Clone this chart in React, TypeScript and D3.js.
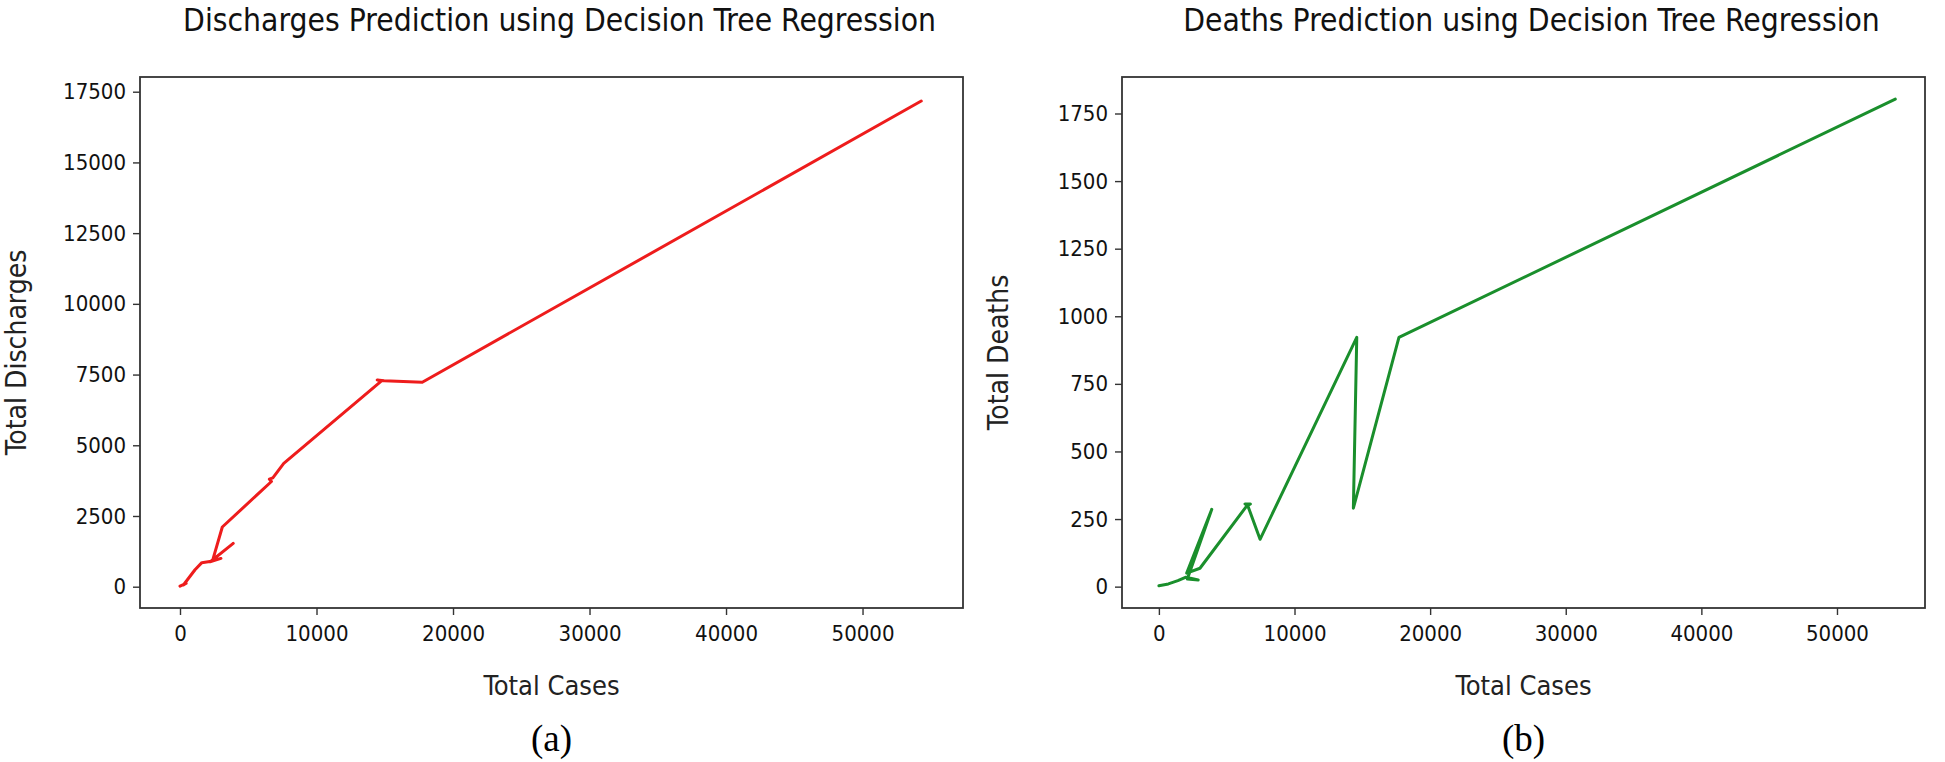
import { useEffect, useRef } from "react";
import * as d3 from "d3";

// Total cases vs predicted discharges (in plotted order)
const dischargeCases = [0, 450, 250, 1100, 1600, 2300, 3000, 2200, 3900, 2400, 3100, 6700, 6550, 6800, 7600, 14700, 14450, 14950, 17750, 54300];
const dischargeValues = [20, 120, 60, 600, 850, 900, 1000, 880, 1530, 950, 2110, 3720, 3800, 3850, 4360, 7250, 7310, 7280, 7230, 17170];

// Total cases vs predicted deaths (in plotted order)
const deathCases = [0, 700, 1400, 2000, 2900, 2100, 3900, 2050, 3030, 6500, 6350, 6750, 6550, 7460, 14590, 14340, 17700, 54300];
const deathValues = [3, 10, 22, 35, 25, 28, 286, 50, 68, 300, 306, 306, 300, 175, 922, 290, 922, 1803];

const xTicks = [0, 10000, 20000, 30000, 40000, 50000];
const dischargeTicks = [0, 2500, 5000, 7500, 10000, 12500, 15000, 17500];
const deathTicks = [0, 250, 500, 750, 1000, 1250, 1500, 1750];

const FONT = "'DejaVu Sans Condensed', 'DejaVu Sans', sans-serif";

function drawPanel(root, opts) {
  const { x0, x1, y0, y1, xDomain, yDomain, xs, ys, yTicks, color, title, yLabel, caption } = opts;

  const x = d3.scaleLinear().domain(xDomain).range([x0, x1]);
  const y = d3.scaleLinear().domain(yDomain).range([y1, y0]);

  const g = root.append("g");

  // title
  g.append("text")
    .attr("x", (x0 + x1) / 2 + 8)
    .attr("y", 31)
    .attr("text-anchor", "middle")
    .style("font-family", FONT)
    .style("font-size", "31.5px")
    .style("fill", "#111")
    .text(title);

  // line
  const pts = xs.map((d, i) => [d, ys[i]]);
  g.append("path")
    .datum(pts)
    .attr("fill", "none")
    .attr("stroke", color)
    .attr("stroke-width", 3)
    .attr("stroke-linejoin", "round")
    .attr("stroke-linecap", "round")
    .attr(
      "d",
      d3
        .line()
        .x((d) => x(d[0]))
        .y((d) => y(d[1]))
    );

  // frame
  g.append("rect")
    .attr("x", x0)
    .attr("y", y0)
    .attr("width", x1 - x0)
    .attr("height", y1 - y0)
    .attr("fill", "none")
    .attr("stroke", "#333")
    .attr("stroke-width", 1.8);

  // x axis
  const xa = g
    .append("g")
    .attr("transform", `translate(0,${y1})`)
    .call(d3.axisBottom(x).tickValues(xTicks).tickSize(7).tickPadding(10).tickFormat(d3.format("d")));
  xa.select(".domain").remove();

  // y axis
  const ya = g
    .append("g")
    .attr("transform", `translate(${x0},0)`)
    .call(d3.axisLeft(y).tickValues(yTicks).tickSize(7).tickPadding(7).tickFormat(d3.format("d")));
  ya.select(".domain").remove();

  [xa, ya].forEach((a) => {
    a.selectAll("line").attr("stroke", "#333").attr("stroke-width", 1.4);
    a.selectAll("text")
      .style("font-family", FONT)
      .style("font-size", "22px")
      .style("fill", "#111");
  });

  // axis labels
  g.append("text")
    .attr("x", (x0 + x1) / 2)
    .attr("y", 695)
    .attr("text-anchor", "middle")
    .style("font-family", FONT)
    .style("font-size", "27px")
    .style("fill", "#222")
    .text("Total Cases");

  g.append("text")
    .attr("transform", `translate(${x0 - 114},${(y0 + y1) / 2 + 10}) rotate(-90)`)
    .attr("text-anchor", "middle")
    .style("font-family", FONT)
    .style("font-size", "28px")
    .style("fill", "#222")
    .text(yLabel);

  // caption
  g.append("text")
    .attr("x", (x0 + x1) / 2)
    .attr("y", 751)
    .attr("text-anchor", "middle")
    .style("font-family", "'Liberation Serif', 'Times New Roman', serif")
    .style("font-size", "37px")
    .style("fill", "#000")
    .text(caption);
}

export default function App() {
  const ref = useRef(null);

  useEffect(() => {
    const svg = d3.select(ref.current);
    svg.selectAll("*").remove();

    drawPanel(svg, {
      x0: 140,
      x1: 963,
      y0: 77,
      y1: 608,
      xDomain: [-2930, 57360],
      yDomain: [-753, 18020],
      xs: dischargeCases,
      ys: dischargeValues,
      yTicks: dischargeTicks,
      color: "#ee1c1c",
      title: "Discharges Prediction using Decision Tree Regression",
      yLabel: "Total Discharges",
      caption: "(a)",
    });

    drawPanel(svg, {
      x0: 1122,
      x1: 1925,
      y0: 77,
      y1: 608,
      xDomain: [-2720, 56490],
      yDomain: [-79, 1885],
      xs: deathCases,
      ys: deathValues,
      yTicks: deathTicks,
      color: "#1a8f2c",
      title: "Deaths Prediction using Decision Tree Regression",
      yLabel: "Total Deaths",
      caption: "(b)",
    });
  }, []);

  return (
    <svg
      ref={ref}
      width={1945}
      height={762}
      style={{ position: "absolute", left: 0, top: 0, background: "#fff" }}
    />
  );
}
